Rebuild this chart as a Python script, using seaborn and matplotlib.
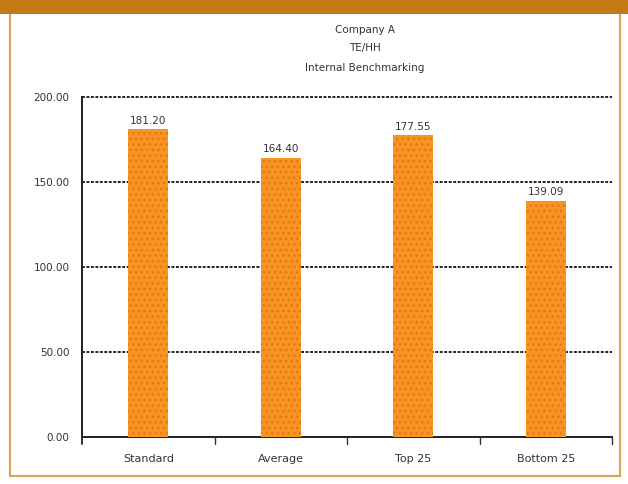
import matplotlib
matplotlib.use("Agg")
import matplotlib.pyplot as plt
import matplotlib.patches as mpatches
import seaborn as sns
import pandas as pd

categories = ["Standard", "Average", "Top 25", "Bottom 25"]
values = [181.20, 164.40, 177.55, 139.09]
value_labels = ["181.20", "164.40", "177.55", "139.09"]
yticks = [0, 50, 100, 150, 200]
ytick_labels = ["0.00", "50.00", "100.00", "150.00", "200.00"]
title_lines = ["Company A", "TE/HH", "Internal Benchmarking"]

df = pd.DataFrame({"cat": categories, "val": values})

sns.set_style("white")
plt.rcParams["font.family"] = ["DejaVu Sans"]
plt.rcParams["hatch.color"] = "#DE7A12"
plt.rcParams["hatch.linewidth"] = 1.0

fig = plt.figure(figsize=(6.28, 4.84), dpi=100)
W, H = 628, 484
# outer frame
fig.patches.append(mpatches.Rectangle((10 / W, 8 / H), 610 / W, 1 - 8 / H, transform=fig.transFigure,
                                      facecolor="none", edgecolor="#D9A55A", linewidth=1.5, zorder=-10))
fig.patches.append(mpatches.Rectangle((0, 1 - 14 / H), 1, 14 / H, transform=fig.transFigure,
                                      facecolor="#C47A14", edgecolor="none", zorder=-5))

ax = fig.add_axes([82 / W, 1 - 437 / H, 530 / W, 340 / H])
ax.set_facecolor("none")
sns.barplot(data=df, x="cat", y="val", color="#F99422", width=0.3, ax=ax, zorder=3,
            saturation=1)
for p in ax.patches:
    p.set_hatch("...")
    p.set_edgecolor("#DE7A12")
    p.set_linewidth(0)
for i, (v, lab) in enumerate(zip(values, value_labels)):
    ax.text(i, v + 2, lab, ha="center", va="bottom", fontsize=7.5, color="#333333")

ax.set_ylim(0, 200)
ax.set_xlim(-0.5, 3.5)
ax.set_yticks(yticks)
ax.set_yticklabels(ytick_labels, fontsize=7.5, color="#333333")
ax.set_xticks(range(4))
ax.set_xticklabels(categories, fontsize=8, color="#333333")
ax.tick_params(axis="x", length=0, pad=12)
ax.tick_params(axis="y", length=5, width=1, color="#333333", direction="out", pad=4)
for yv in yticks[1:]:
    ax.axhline(yv, color="#222222", linestyle=(0, (1.5, 0.8)), linewidth=1.4, zorder=1,
               clip_on=False)
for xb in [0.5, 1.5, 2.5, 3.5]:
    ax.plot([xb, xb], [0, -4], color="#333333", linewidth=1, clip_on=False)
ax.plot([-0.5, -0.5], [0, -4], color="#333333", linewidth=1.4, clip_on=False)
ax.set_xlabel("")
ax.set_ylabel("")
for s in ["top", "right"]:
    ax.spines[s].set_visible(False)
for s in ["left", "bottom"]:
    ax.spines[s].set_color("#222222")
    ax.spines[s].set_linestyle((0, (1.5, 0.8)))
    ax.spines[s].set_linewidth(1.4)

ys = [30, 48, 68]
for t, y in zip(title_lines, ys):
    fig.text(365 / W, 1 - y / H, t, ha="center", va="center", fontsize=7.5, color="#333333")

fig.savefig("out.png", dpi=100)
